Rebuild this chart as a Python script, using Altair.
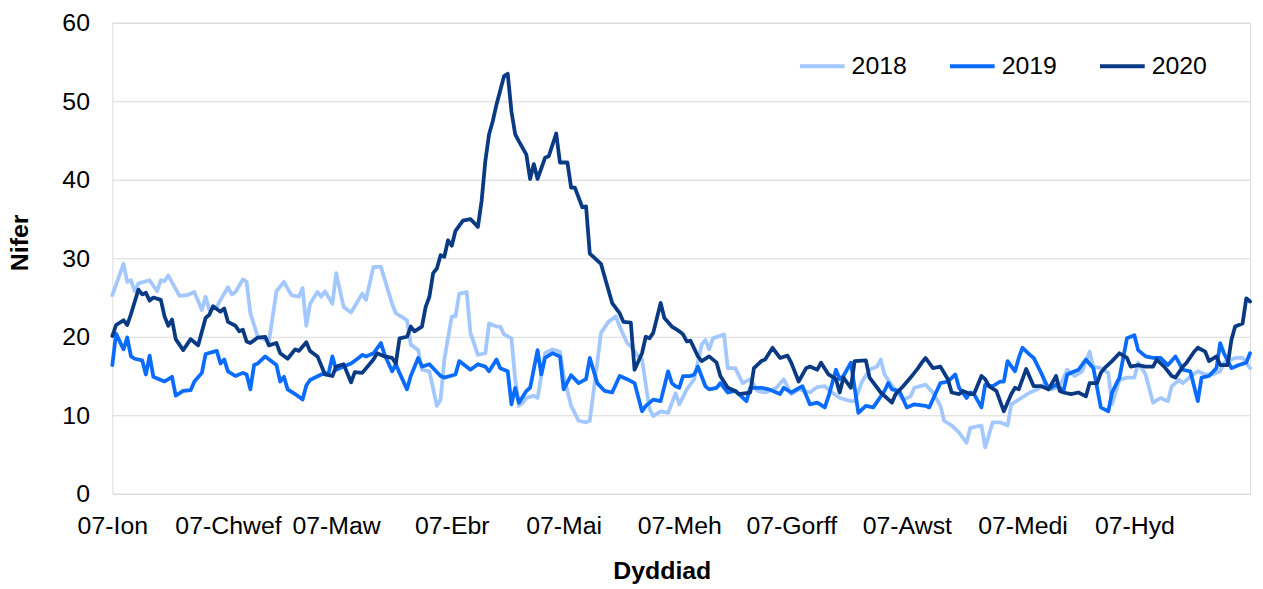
import altair as alt
import pandas as pd

# ---- data ----
series_names = ["2018", "2019", "2020"]
series_colors = ["#a3c7ff", "#0a6cff", "#0b3a85"]

tick_days = [0, 31, 60, 91, 121, 152, 182, 213, 244, 274]
tick_labels = ["07-Ion", "07-Chwef", "07-Maw", "07-Ebr", "07-Mai",
               "07-Meh", "07-Gorff", "07-Awst", "07-Medi", "07-Hyd"]
y_ticks = [0, 10, 20, 30, 40, 50, 60]

days_2018 = [0, 3, 4, 5, 6, 7, 10, 12, 13, 14, 15, 18, 20, 22, 24, 25, 26, 28, 29, 31,
             32, 33, 35, 36, 37, 39, 42, 44, 46, 48, 50, 51, 52, 53, 55, 56, 57, 59, 60, 62,
             64, 67, 68, 70, 72, 75, 76, 78, 79, 80, 82, 83, 85, 87, 88, 89, 91, 92, 93, 95,
             96, 98, 100, 101, 103, 104, 105, 107, 108, 109, 110, 111, 113, 114, 116, 118, 120, 121, 123, 125,
             127, 128, 130, 131, 133, 135, 136, 138, 139, 141, 142, 144, 145, 147, 149, 151, 152, 154, 156, 158,
             159, 160, 161, 164, 165, 167, 169, 171, 173, 175, 178, 180, 182, 184, 187, 189, 191, 193, 195, 198,
             199, 201, 203, 205, 206, 207, 210, 212, 214, 215, 218, 220, 222, 223, 225, 227, 229, 230, 233, 234,
             236, 238, 240, 241, 243, 246, 248, 250, 252, 254, 256, 258, 260, 262, 263, 265, 267, 268, 270, 272,
             274, 275, 277, 279, 281, 283, 284, 286, 287, 289, 291, 293, 295, 297, 298, 300, 301, 303, 305]
vals_2018 = [25.3, 29.3, 27.0, 27.2, 25.8, 26.8, 27.2, 25.8, 27.2, 27.1, 27.8, 25.2, 25.3, 25.7, 23.4, 25.1, 23.4, 23.8, 24.7, 26.3,
             25.4, 25.7, 27.3, 27.0, 23.0, 20.0, 19.4, 25.8, 27.0, 25.3, 25.1, 26.2, 21.4, 24.2, 25.7, 25.1, 25.8, 24.2, 28.1, 23.8,
             23.1, 25.5, 24.7, 28.9, 28.9, 24.2, 23.0, 22.4, 22.1, 19.0, 18.3, 15.8, 15.6, 11.2, 12.0, 17.1, 22.6, 22.6, 25.5, 25.7,
             20.5, 17.7, 17.9, 21.7, 21.3, 21.3, 20.3, 19.8, 14.6, 11.2, 11.6, 12.2, 12.5, 12.2, 17.9, 18.4, 18.1, 15.0, 11.2, 9.3,
             9.1, 9.3, 16.7, 20.5, 21.9, 22.6, 21.3, 19.2, 18.8, 17.5, 17.1, 10.8, 9.9, 10.5, 10.3, 12.8, 11.4, 13.3, 14.6, 19.0,
             19.6, 18.4, 19.8, 20.3, 16.0, 16.0, 14.1, 14.6, 13.1, 12.9, 13.5, 14.6, 12.7, 13.3, 12.9, 13.6, 13.7, 12.9, 12.2, 11.8,
             11.8, 14.3, 15.8, 16.2, 17.1, 15.2, 13.1, 12.0, 12.4, 13.5, 13.9, 12.9, 11.2, 9.3, 8.7, 7.8, 6.5, 8.4, 8.7, 5.9,
             9.1, 9.1, 8.7, 11.4, 12.0, 12.9, 13.3, 14.1, 13.3, 13.7, 15.8, 15.0, 15.6, 18.1, 16.2, 16.0, 15.4, 11.4, 14.5, 14.8,
             14.8, 16.7, 15.2, 11.6, 12.2, 11.8, 13.7, 14.5, 14.1, 14.9, 15.6, 15.2, 15.2, 15.6, 16.7, 17.1, 17.3, 17.3, 16.0]

days_2019 = [0, 1, 3, 4, 5, 6, 8, 9, 10, 11, 13, 14, 16, 17, 19, 21, 22, 24, 25, 28,
             29, 30, 31, 33, 35, 36, 37, 38, 39, 41, 44, 45, 46, 47, 49, 51, 52, 53, 56, 58,
             59, 60, 62, 64, 66, 67, 68, 70, 72, 73, 75, 76, 77, 79, 80, 82, 83, 85, 88, 89,
             92, 93, 96, 98, 100, 101, 103, 104, 106, 107, 108, 109, 111, 112, 114, 115, 116, 118, 120, 121,
             123, 125, 127, 128, 130, 132, 134, 136, 138, 140, 142, 143, 145, 147, 149, 150, 151, 152, 153, 155,
             156, 157, 159, 160, 162, 163, 165, 167, 170, 171, 174, 176, 179, 180, 182, 185, 187, 189, 191, 192,
             194, 195, 196, 198, 199, 200, 202, 204, 207, 208, 209, 211, 213, 215, 218, 219, 221, 222, 224, 226,
             227, 229, 230, 231, 233, 234, 236, 238, 239, 240, 242, 243, 244, 246, 247, 249, 251, 253, 255, 256,
             258, 259, 261, 263, 265, 267, 268, 270, 272, 274, 275, 277, 279, 281, 283, 285, 287, 289, 291, 292,
             294, 296, 297, 298, 300, 302, 304, 305]
vals_2019 = [16.4, 20.4, 18.4, 19.9, 17.5, 17.2, 17.0, 15.2, 17.6, 14.9, 14.5, 14.3, 14.9, 12.5, 13.1, 13.2, 14.3, 15.4, 17.8, 18.2,
             16.6, 17.1, 15.6, 15.0, 15.4, 15.2, 13.3, 16.4, 16.6, 17.5, 16.4, 14.3, 14.9, 13.3, 12.7, 12.0, 13.8, 14.5, 15.2, 15.4,
             17.5, 15.8, 16.2, 16.6, 17.3, 17.7, 17.5, 17.9, 19.2, 17.7, 15.6, 16.5, 15.4, 13.3, 15.0, 17.3, 16.2, 16.5, 15.0, 14.8,
             15.2, 16.9, 15.8, 16.5, 16.2, 15.6, 17.1, 16.0, 15.6, 11.4, 13.5, 11.6, 13.1, 13.5, 18.3, 15.2, 17.3, 17.9, 17.5, 13.3,
             15.1, 14.1, 14.6, 17.3, 14.1, 13.1, 12.9, 15.0, 14.6, 14.1, 10.5, 11.2, 12.0, 11.8, 15.6, 14.1, 13.7, 13.5, 15.0, 15.0,
             15.2, 16.2, 13.7, 13.3, 13.5, 14.1, 12.9, 13.1, 11.8, 13.5, 13.5, 13.3, 12.7, 13.5, 12.9, 13.7, 11.4, 11.6, 11.0, 12.4,
             15.8, 14.6, 15.0, 16.7, 13.5, 10.3, 11.2, 11.0, 13.1, 14.1, 13.3, 13.1, 11.0, 11.4, 11.2, 11.0, 13.1, 14.1, 14.3, 15.2,
             13.5, 12.2, 12.9, 12.7, 11.0, 13.9, 13.7, 14.3, 14.3, 16.9, 15.6, 17.3, 18.6, 17.7, 17.3, 15.4, 13.3, 13.9, 13.1, 15.2,
             15.6, 15.8, 17.1, 16.0, 11.0, 10.5, 12.9, 14.8, 19.8, 20.2, 18.3, 17.5, 17.3, 17.3, 16.4, 17.5, 15.8, 15.6, 11.8, 14.8,
             15.0, 16.0, 19.2, 17.9, 16.0, 16.4, 16.7, 17.9]

days_2020 = [0, 1, 3, 4, 5, 7, 8, 9, 10, 11, 13, 14, 15, 16, 17, 19, 21, 22, 23, 25,
             26, 27, 29, 30, 31, 33, 34, 35, 36, 37, 39, 41, 42, 44, 45, 47, 49, 50, 52, 53,
             55, 57, 59, 60, 62, 64, 65, 67, 70, 71, 73, 75, 76, 77, 79, 80, 81, 83, 84, 85,
             86, 87, 88, 89, 90, 91, 92, 94, 96, 98, 99, 100, 101, 102, 103, 105, 106, 107, 108, 109,
             111, 112, 113, 114, 116, 117, 119, 120, 122, 123, 124, 126, 127, 128, 131, 132, 134, 136, 137, 139,
             140, 142, 143, 144, 145, 147, 148, 150, 151, 152, 153, 154, 155, 157, 158, 160, 162, 163, 165, 167,
             168, 171, 172, 174, 175, 177, 179, 181, 182, 184, 186, 187, 189, 190, 192, 194, 195, 196, 198, 199,
             202, 203, 206, 209, 210, 212, 214, 216, 217, 218, 220, 222, 224, 225, 227, 228, 230, 231, 233, 234,
             235, 237, 239, 241, 242, 243, 245, 247, 249, 251, 253, 254, 255, 257, 259, 261, 262, 264, 265, 266,
             268, 270, 272, 273, 275, 277, 279, 280, 282, 284, 285, 287, 288, 290, 291, 293, 294, 296, 297, 299,
             300, 301, 303, 304, 305]
vals_2020 = [20.1, 21.5, 22.1, 21.5, 22.9, 26.0, 25.4, 25.6, 24.6, 25.0, 24.7, 22.6, 21.4, 22.2, 19.7, 18.3, 19.7, 19.3, 18.9, 22.4,
             22.8, 23.9, 23.2, 23.6, 21.9, 21.4, 20.7, 20.9, 19.4, 19.2, 19.9, 20.0, 18.9, 19.2, 17.9, 17.2, 18.4, 18.2, 19.3, 18.2,
             17.5, 15.2, 15.0, 16.2, 16.5, 14.2, 15.5, 15.4, 17.1, 17.9, 17.5, 17.3, 16.6, 19.8, 20.0, 21.3, 20.7, 21.3, 23.8, 25.1,
             28.1, 28.7, 30.4, 30.2, 32.3, 31.6, 33.5, 34.8, 35.0, 34.0, 37.3, 42.4, 45.8, 47.5, 49.6, 53.2, 53.5, 48.7, 45.8, 44.9,
             43.2, 40.1, 42.0, 40.1, 42.8, 43.0, 45.9, 42.2, 42.2, 39.0, 39.0, 36.5, 36.6, 30.6, 29.3, 27.6, 24.3, 23.0, 21.9, 21.8,
             15.8, 17.9, 20.0, 19.8, 20.5, 24.3, 22.4, 21.3, 21.0, 20.7, 20.3, 19.4, 19.5, 17.5, 16.9, 17.5, 16.7, 15.0, 13.5, 13.1,
             12.7, 12.9, 16.0, 16.9, 17.1, 18.6, 17.3, 17.6, 16.7, 14.3, 16.0, 16.2, 15.8, 16.7, 15.2, 14.6, 12.9, 14.8, 13.5, 16.9,
             17.0, 14.8, 12.9, 11.6, 12.7, 13.7, 14.8, 16.0, 16.7, 17.3, 16.0, 16.2, 14.6, 12.9, 12.7, 13.1, 12.7, 12.7, 15.0, 14.6,
             13.7, 13.1, 10.5, 12.7, 13.5, 13.3, 15.9, 13.7, 13.7, 13.3, 15.0, 13.1, 12.9, 12.7, 12.9, 12.4, 14.1, 14.1, 15.4, 16.0,
             16.9, 17.9, 17.3, 16.2, 16.4, 16.2, 16.2, 17.1, 16.2, 15.0, 14.8, 16.2, 16.7, 18.1, 18.6, 18.1, 16.9, 17.5, 16.4, 16.4,
             19.6, 21.3, 21.7, 24.9, 24.5]

rows = []
for name, ds, vs in [("2018", days_2018, vals_2018),
                     ("2019", days_2019, vals_2019),
                     ("2020", days_2020, vals_2020)]:
    for d, v in zip(ds, vs):
        rows.append({"year": name, "day": d, "value": v})
df = pd.DataFrame(rows)

FONT = "Liberation Sans"
label_expr = "{}[indexof({}, datum.value)]".format(
    "[" + ",".join("'" + t + "'" for t in tick_labels) + "]",
    "[" + ",".join(str(d) for d in tick_days) + "]")

chart = alt.Chart(df).mark_line(
    strokeWidth=3.8, strokeJoin="round", strokeCap="round"
).encode(
    x=alt.X("day:Q",
            scale=alt.Scale(domain=[0, 305], nice=False, zero=False),
            axis=alt.Axis(values=tick_days, labelExpr=label_expr, title="Dyddiad",
                          grid=False, ticks=False, domain=False,
                          labelFlush=False, labelOverlap=False,
                          labelFont=FONT, labelFontSize=25, labelColor="#000000",
                          labelPadding=20,
                          titleFont=FONT, titleFontSize=25, titleFontWeight="bold",
                          titleColor="#000000", titleX=553, titleY=77,
                          titleAlign="center", titleBaseline="middle")),
    y=alt.Y("value:Q",
            scale=alt.Scale(domain=[0, 60], nice=False),
            axis=alt.Axis(values=y_ticks, title="Nifer", grid=True,
                          gridColor="#d9d9d9", gridWidth=1,
                          ticks=False, domain=False,
                          labelFont=FONT, labelFontSize=25, labelColor="#000000",
                          labelPadding=23,
                          titleFont=FONT, titleFontSize=25, titleFontWeight="bold",
                          titleColor="#000000", titleX=-85, titleY=221,
                          titleAlign="center", titleBaseline="alphabetic", titleAngle=270)),
    color=alt.Color("year:N",
                    scale=alt.Scale(domain=series_names, range=series_colors),
                    legend=alt.Legend(orient="none", legendX=690, legendY=19,
                                      direction="horizontal", title=None,
                                      symbolType="stroke", symbolSize=2025,
                                      symbolStrokeWidth=4, labelFont=FONT,
                                      labelFontSize=25, labelColor="#000000",
                                      labelOffset=5, columnPadding=35, padding=0)),
    order=alt.Order("day:Q"),
).properties(
    width=1145, height=474,
    autosize=alt.AutoSizeParams(type="none"),
    padding={"left": 105, "top": 13, "right": 5, "bottom": 100},
).configure_view(stroke=None).configure(background="white")

chart.save("out.html", embed_options={"renderer": "svg", "actions": False})
